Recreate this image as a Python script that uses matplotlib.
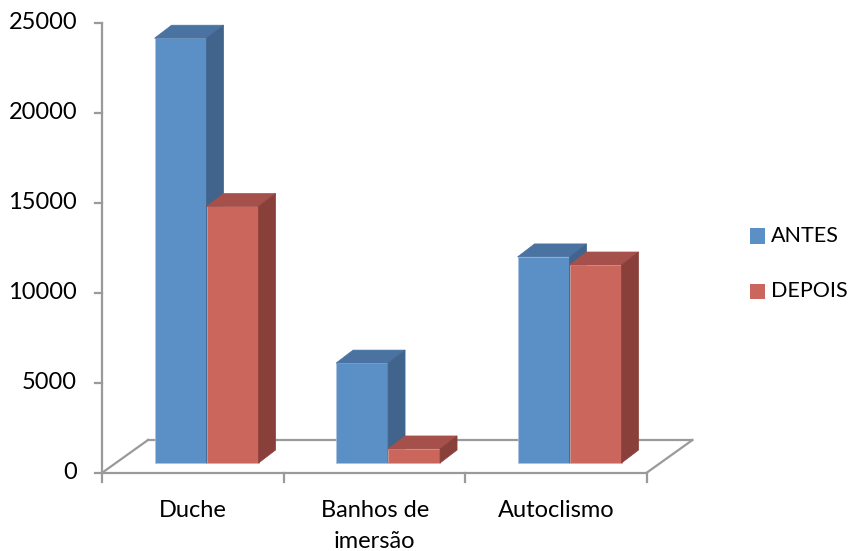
import matplotlib.pyplot as plt
from matplotlib.patches import Polygon, Rectangle

categories = ['Duche', 'Banhos de\nimersão', 'Autoclismo']
series_names = ['ANTES', 'DEPOIS']
antes = [23600, 5550, 11450]
depois = [14250, 780, 11000]
y_ticks = [0, 5000, 10000, 15000, 20000, 25000]

# front / top / side shades for each series, plus a light rim on the front
shades = {
    'ANTES': ('#5B90C6', '#4A73A2', '#41648D', '#A9C2E0'),
    'DEPOIS': ('#CB665D', '#A5504A', '#8A403A', '#E0A9A4'),
}

plt.rcParams['font.family'] = ['Lato', 'DejaVu Sans']
fs = 17

fig = plt.figure(figsize=(8.51, 5.51), dpi=100)
ax = fig.add_axes([0, 0, 1, 1])
ax.set_xlim(-1.0647, 3.624)
ax.set_ylim(-4361, 26250)
ax.axis('off')

grey = '#9A9A9A'
lw = 1.6

# depth of the floor, and where the bar row sits inside it
floor_dx, floor_dy = 0.2507, 1806
row_dx, row_dy = 0.0733, 528
bar_w = 0.2865
bar_dx, bar_dy = 0.0937, 722

x0, x1 = -0.5, len(categories) - 0.5

# floor outline
ax.plot([x0 + floor_dx, x1 + floor_dx], [floor_dy, floor_dy], color=grey, lw=lw, zorder=1)
ax.plot([x0, x0 + floor_dx], [0, floor_dy], color=grey, lw=lw, zorder=1)
ax.plot([x1, x1 + floor_dx], [0, floor_dy], color=grey, lw=lw, zorder=1)
ax.plot([x0, x1], [0, 0], color=grey, lw=lw, zorder=1)

# value axis
ax.plot([x0, x0], [0, y_ticks[-1]], color=grey, lw=lw, zorder=1)
tick_len = 0.04
for t in y_ticks:
    ax.plot([x0 - tick_len, x0], [t, t], color=grey, lw=lw, zorder=1)
    ax.text(x0 - 0.14, t, str(t), ha='right', va='center', fontsize=fs, color='black')

# category ticks and labels
for i in range(len(categories) + 1):
    ax.plot([x0 + i, x0 + i], [0, -530], color=grey, lw=lw, zorder=1)
for i, name in enumerate(categories):
    ax.text(i, -1500, name, ha='center', va='top', fontsize=fs,
            linespacing=1.6, color='black')


def draw_bar(left, value, colors, z):
    front, top, side, rim = colors
    bx = left + row_dx
    by = row_dy
    right = bx + bar_w
    ax.add_patch(Polygon([(bx, by), (right, by), (right, by + value), (bx, by + value)],
                         closed=True, facecolor=front, edgecolor=rim, lw=0.5, zorder=z))
    ax.add_patch(Polygon([(bx, by + value), (right, by + value),
                          (right + bar_dx, by + value + bar_dy), (bx + bar_dx, by + value + bar_dy)],
                         closed=True, facecolor=top, edgecolor=top, lw=0.5, zorder=z))
    ax.add_patch(Polygon([(right, by), (right + bar_dx, by + bar_dy),
                          (right + bar_dx, by + value + bar_dy), (right, by + value)],
                         closed=True, facecolor=side, edgecolor=side, lw=0.5, zorder=z))


z = 2
for i in range(len(categories)):
    draw_bar(i - bar_w, antes[i], shades['ANTES'], z)
    z += 1
    draw_bar(i, depois[i], shades['DEPOIS'], z)
    z += 1

# legend
for k, name in enumerate(series_names):
    yc = 1 - (236 + 55 * k) / 551
    fig.patches.append(Rectangle((750 / 851, yc - 7.5 / 551), 15 / 851, 15 / 551,
                                 transform=fig.transFigure, facecolor=shades[name][0],
                                 edgecolor='none'))
    fig.text(771 / 851, yc, name, ha='left', va='center', fontsize=15.5, color='black')

fig.savefig('out.png', dpi=100)
